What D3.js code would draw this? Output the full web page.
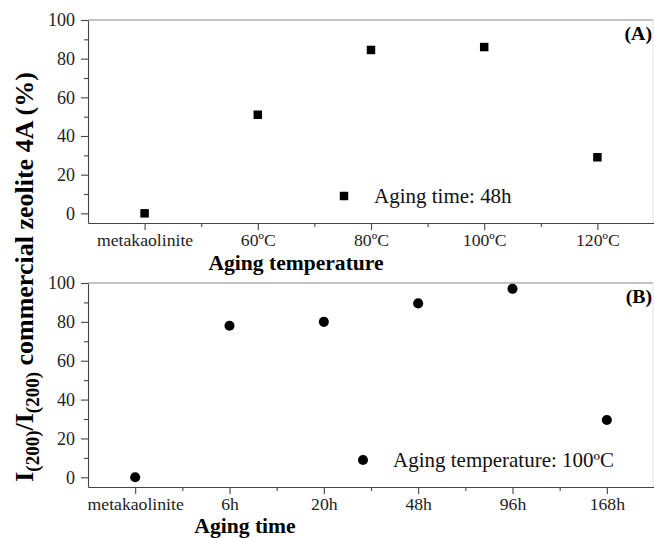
<!DOCTYPE html>
<html>
<head>
<meta charset="utf-8">
<script src="https://cdn.jsdelivr.net/npm/d3@7"></script>
<style>
  html, body { margin: 0; padding: 0; background: #fff; }
  svg { display: block; font-family: "Liberation Serif", "Times New Roman", serif; }
</style>
</head>
<body>
<svg id="chart" width="654" height="538"></svg>
<script>
// data
const tempCats = ["metakaolinite", "60ºC", "80ºC", "100ºC", "120ºC"];
const tempValues = [0, 51, 84.5, 86, 29];
const timeCats = ["metakaolinite", "6h", "20h", "48h", "96h", "168h"];
const timeValues = [0, 78, 80, 89.5, 97, 29.5];
const yTicks = [0, 20, 40, 60, 80, 100];
const yMinor = [10, 30, 50, 70, 90];

const svg = d3.select("#chart");
const left = 88, right = 654;

function panel(cfg) {
  const { cats, values, top, bottom, tag, symbol, legendX, legendText, title, titleX, titleDy } = cfg;
  const g = svg.append("g");

  const x = d3.scaleLinear().domain([-0.5, cats.length - 0.5]).range([left, right]);
  const y = d3.scaleLinear().domain([-5, 100]).range([bottom, top]);

  // frame: top and right edges
  g.append("line").attr("x1", left).attr("x2", right - 1).attr("y1", top).attr("y2", top)
    .attr("stroke", "#888").attr("stroke-width", 1.2);
  g.append("line").attr("x1", right - 1).attr("x2", right - 1).attr("y1", top).attr("y2", bottom)
    .attr("stroke", "#e4e4e4");

  // y axis
  const ya = g.append("g").attr("transform", `translate(${left},0)`)
    .call(d3.axisLeft(y).tickValues(yTicks).tickSize(7).tickPadding(6).tickSizeOuter(0));
  g.append("g").attr("transform", `translate(${left},0)`)
    .call(d3.axisLeft(y).tickValues(yMinor).tickSize(4).tickFormat("").tickSizeOuter(0))
    .select(".domain").remove();
  ya.selectAll("text").attr("font-size", 18).attr("font-family", "Liberation Serif")
    .attr("fill", "#222");

  // x axis
  const xa = g.append("g").attr("transform", `translate(0,${bottom})`)
    .call(d3.axisBottom(x).tickValues(d3.range(cats.length)).tickFormat(i => cats[i])
      .tickSize(7).tickPadding(4).tickSizeOuter(0));
  g.append("g").attr("transform", `translate(0,${bottom})`)
    .call(d3.axisBottom(x).tickValues(d3.range(cats.length - 1).map(i => i + 0.5))
      .tickSize(4).tickFormat("").tickSizeOuter(0))
    .select(".domain").remove();
  xa.selectAll("text").attr("font-size", 17).attr("font-family", "Liberation Serif")
    .attr("fill", "#222").attr("transform", "scale(1.04,1)");

  g.selectAll(".domain, .tick line").attr("stroke", "#444").attr("stroke-width", 1.1);

  // points
  const sym = d3.symbol().type(symbol).size(symbol === d3.symbolSquare ? 72 : 80);
  g.selectAll(".pt").data(values).join("path")
    .attr("transform", (d, i) => `translate(${x(i)},${y(d)})`)
    .attr("d", sym).attr("fill", "#000");

  // legend
  g.append("path").attr("transform", `translate(${legendX},${bottom - 27})`)
    .attr("d", sym).attr("fill", "#000");
  g.append("text").attr("transform", `translate(${legendX + 30},${bottom - 20}) scale(1.05,1)`)
    .attr("font-size", 20).attr("fill", "#111").text(legendText);

  // panel tag
  g.append("text").attr("transform", `translate(${right - 2},${top + 20}) scale(1.1,1)`)
    .attr("text-anchor", "end").attr("font-size", 18).attr("font-weight", "bold").text(tag);

  // x title
  g.append("text").attr("transform", `translate(${titleX},${bottom + titleDy}) scale(1.08,1)`)
    .attr("text-anchor", "middle").attr("font-size", 20).attr("font-weight", "bold").text(title);
}

panel({
  cats: tempCats, values: tempValues, top: 20, bottom: 223, tag: "(A)",
  symbol: d3.symbolSquare, legendX: 344, legendText: "Aging time: 48h",
  title: "Aging temperature", titleX: 296, titleDy: 47
});
panel({
  cats: timeCats, values: timeValues, top: 283, bottom: 487, tag: "(B)",
  symbol: d3.symbolCircle, legendX: 363, legendText: "Aging temperature: 100ºC",
  title: "Aging time", titleX: 245, titleDy: 46
});

// shared y title with subscripts
const yt = svg.append("text")
  .attr("transform", "translate(33,277) rotate(-90)")
  .attr("text-anchor", "middle").attr("font-weight", "bold").attr("font-size", 26);
yt.append("tspan").text("I");
yt.append("tspan").attr("font-size", 19).attr("dy", 6).text("(200)");
yt.append("tspan").attr("dy", -6).text("/I");
yt.append("tspan").attr("font-size", 19).attr("dy", 6).text("(200)");
yt.append("tspan").attr("dy", -6).text(" commercial zeolite 4A (%)");
</script>
</body>
</html>
